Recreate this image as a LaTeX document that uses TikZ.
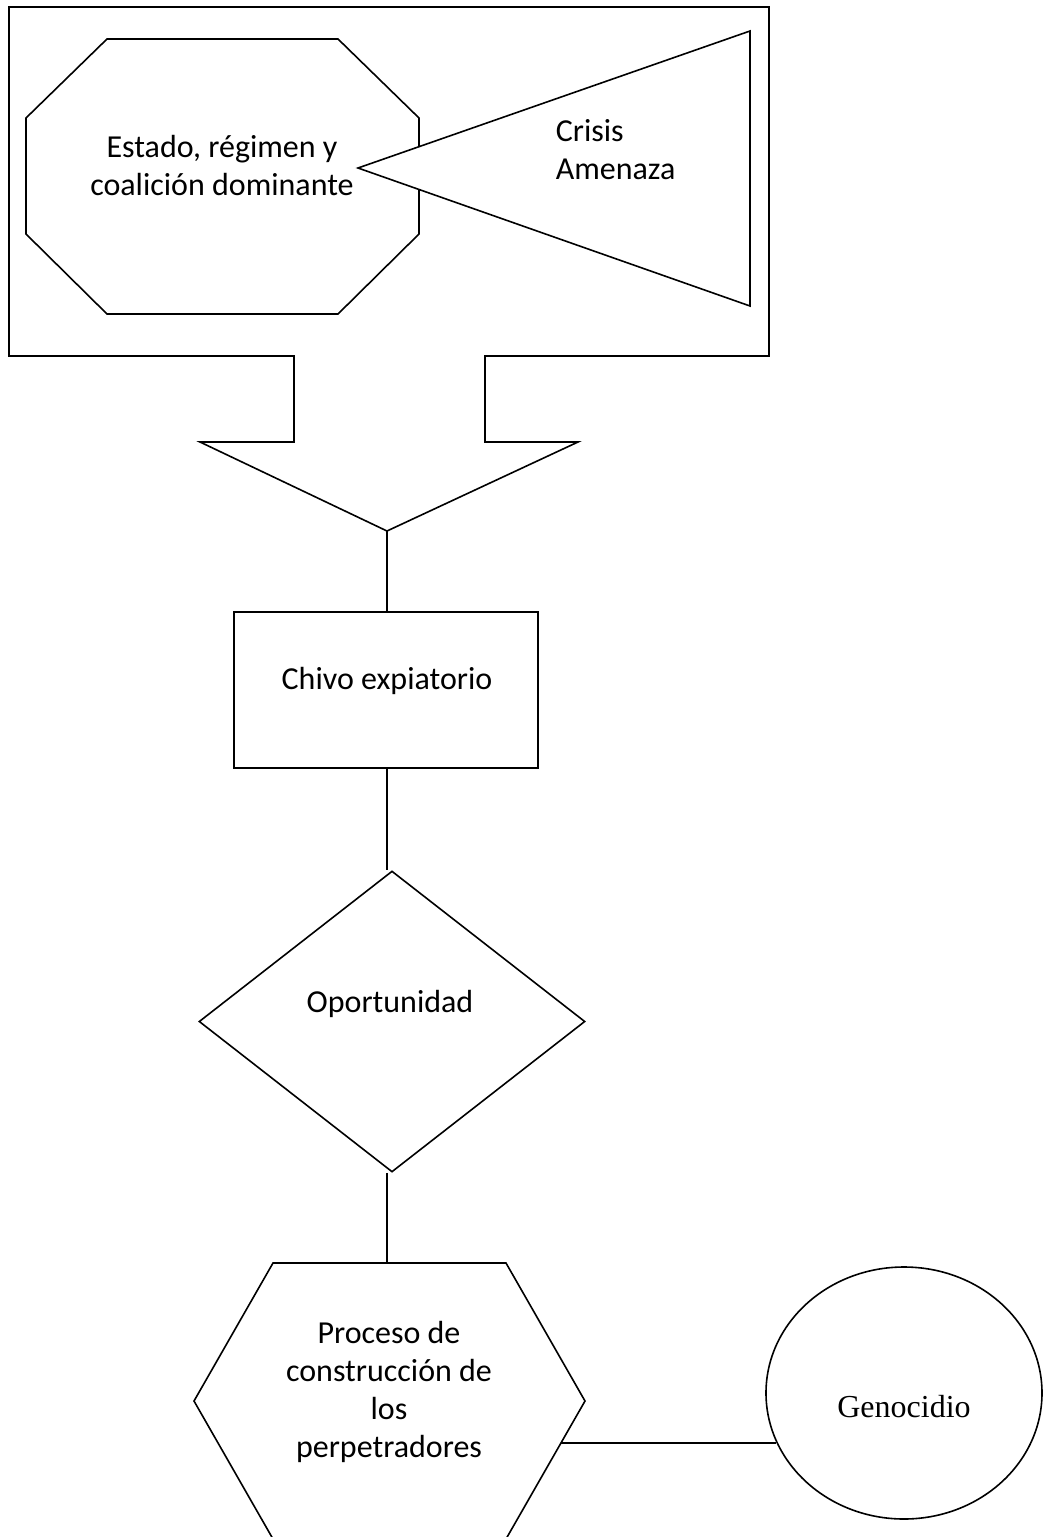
\documentclass[tikz,border=0pt]{standalone}
\usepackage{fontspec}
\setmainfont{Carlito}
\newfontfamily\genfont{Liberation Serif}
\usetikzlibrary{shapes.geometric}

\begin{document}
\begin{tikzpicture}[x=0.5pt,y=-0.5pt,line width=0.8pt,line join=miter,
    shp/.style={draw,inner sep=0},
    lbl/.style={inner sep=0,align=center,font=\fontsize{16}{19}\selectfont}]
\useasboundingbox (0,0) rectangle (1043,1537);
%%
%% frame, with the block arrow hanging from it
\draw (294,356) -- (9,356) -- (9,7) -- (769,7) -- (769,356) -- (485,356)
  -- (485,442) -- (578,442) -- (387,531) coordinate (tip) -- (200,442) -- (294,442) -- cycle;
%% octagon and triangle
\draw (107,39) -- (338,39) -- (419,118) -- (419,234) -- (338,314) -- (107,314) -- (26,234) -- (26,118) -- cycle;
\draw[fill=white] (358,168) -- (750,31) -- (750,306) -- cycle;
\node[lbl] (estado) at (222,166) {Estado, régimen y\\coalición dominante};
\node[lbl,anchor=west,align=left] (crisis) at (555,150) {Crisis\\Amenaza};
%
\node[shp,rectangle,minimum width=152pt,minimum height=78pt] (chivo) at (386,690) {};
\node[lbl] (chivotxt) at (387,681) {Chivo expiatorio};
%
\node[shp,diamond,minimum width=193pt,minimum height=150.5pt] (opor) at (392,1021.5) {};
\node[lbl] (oportxt) at (390,1004) {Oportunidad};
%
\draw (273,1263) coordinate (hextl) -- (506,1263) -- (585,1401) -- (506,1539) -- (273,1539) -- (194,1401) -- cycle;
\coordinate (hextop) at (387,1263);
\coordinate (hexr) at (561,1443);
\node[lbl] (proceso) at (389,1392) {Proceso de\\construcción de\\los\\perpetradores};
%
\node[shp,ellipse,minimum width=138pt,minimum height=126pt] (geno) at (904,1393) {};
\node[lbl,font=\genfont\fontsize{16}{19}\selectfont] (genotxt) at (904,1407) {Genocidio};
%% connectors
\draw (tip) -- (tip |- chivo.north);
\draw (tip |- chivo.south) -- (tip |- opor.north);
\draw (hextop |- opor.south) -- (hextop);
\draw (hexr) -- (hexr -| geno.201);
\end{tikzpicture}
\end{document}
